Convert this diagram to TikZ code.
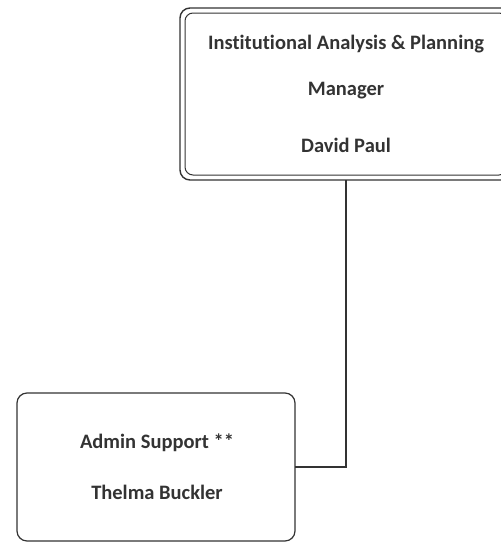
\documentclass[tikz,border=0pt]{standalone}
\usepackage{fontspec}
\setmainfont{Carlito}[Ligatures=NoCommon]
\definecolor{ink}{HTML}{333333}
\begin{document}
\begin{tikzpicture}[x=1pt,y=-1pt,
  lbl/.style={font=\bfseries\fontsize{20.5}{24}\selectfont, text=ink},
  boxline/.style={draw=ink, line width=1.2pt, rounded corners=10pt}]
\useasboundingbox (0,0) rectangle (501,544);
\clip (0,0) rectangle (501,544);
% top box (double border)
\draw[boxline, line width=1.4pt] (180,8) rectangle (512,180);
\draw[boxline, line width=1pt, rounded corners=8pt] (185,13) rectangle (507,175);
\node[lbl] (t1) at (346,44) {Institutional Analysis \& Planning};
\node[lbl] (t2) at (346,91) {Manager};
\node[lbl] (t3) at (346,145) {David Paul};
\coordinate (top) at (346,180);
% bottom box
\draw[boxline] (17,393) rectangle (295,541);
\coordinate (bot) at (295,467);
\node[lbl] (b1) at (157,443) {Admin Support **};
\node[lbl] (b2) at (157,492) {Thelma Buckler};
\draw[draw=ink, line width=1.2pt] (top) |- (bot);
\end{tikzpicture}
\end{document}
